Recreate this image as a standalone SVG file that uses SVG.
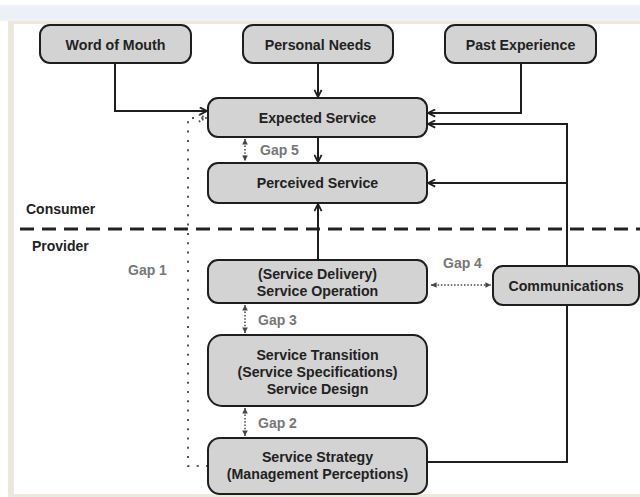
<svg xmlns="http://www.w3.org/2000/svg" width="640" height="497" viewBox="0 0 640 497">
<defs>
<style>
.node rect{fill:#d3d3d3;stroke:#1e1e1e;stroke-width:2}
.t{font-family:"Liberation Sans",Arial,sans-serif;font-weight:bold;font-size:14.2px;fill:#222;text-anchor:middle}
.lbl{font-family:"Liberation Sans",Arial,sans-serif;font-weight:bold;font-size:14px;fill:#222}
.gap{font-family:"Liberation Sans",Arial,sans-serif;font-size:14px;fill:#777;font-weight:bold}
.c{fill:none;stroke:#1e1e1e;stroke-width:2}
.d{fill:none;stroke:#555;stroke-width:2;stroke-dasharray:2 7.3}
.g{fill:none;stroke:#444;stroke-width:1.5;stroke-dasharray:1.5 1.8}
</style>
<marker id="ah" viewBox="0 0 10 10" refX="9" refY="5" markerWidth="9" markerHeight="9" markerUnits="userSpaceOnUse" orient="auto-start-reverse">
<path d="M1,1 L9,5 L1,9" fill="none" stroke="#1e1e1e" stroke-width="2"/>
</marker>
<marker id="ag" viewBox="0 0 10 10" refX="9" refY="5" markerWidth="7" markerHeight="7" markerUnits="userSpaceOnUse" orient="auto-start-reverse">
<path d="M1,1 L9,5 L1,9 Z" fill="#444"/>
</marker>
<marker id="ad" viewBox="0 0 10 10" refX="9" refY="5" markerWidth="9" markerHeight="9" markerUnits="userSpaceOnUse" orient="auto">
<path d="M1,1 L9,5 L1,9" fill="none" stroke="#555" stroke-width="2" stroke-dasharray="2 2"/>
</marker>
</defs>
<rect x="0" y="0" width="640" height="497" fill="#ffffff"/>
<rect x="0" y="5" width="640" height="16" fill="#edf1f7"/>
<rect x="8" y="21" width="632" height="476" fill="#ece8dc"/>
<rect x="14" y="24" width="626" height="470" fill="#ffffff"/>

<line x1="20" y1="229" x2="640" y2="229" stroke="#222" stroke-width="3" stroke-dasharray="14 8"/>
<text class="lbl" x="26" y="214">Consumer</text>
<text class="lbl" x="32" y="251">Provider</text>

<g id="connectors">
<path class="c" d="M115,63 V111 H207" marker-end="url(#ah)"/>
<path class="c" d="M318,63 V97" marker-end="url(#ah)"/>
<path class="c" d="M521,63 V113 H428" marker-end="url(#ah)"/>
<path class="c" d="M567,266 V124 H428" marker-end="url(#ah)"/>
<path class="c" d="M567,183 H428" marker-end="url(#ah)"/>
<path class="c" d="M567,305 V462 H427"/>
<path class="c" d="M318,137 V162" marker-end="url(#ah)"/>
<path class="c" d="M318,260 V204" marker-end="url(#ah)"/>
<path class="d" d="M208,466 H188 V118 H206" marker-end="url(#ad)"/>
<path class="g" d="M245,139 V161" marker-start="url(#ag)" marker-end="url(#ag)"/>
<path class="g" d="M245,305 V333" marker-start="url(#ag)" marker-end="url(#ag)"/>
<path class="g" d="M245,408 V436" marker-start="url(#ag)" marker-end="url(#ag)"/>
<path class="g" d="M431,285 H491" marker-start="url(#ag)" marker-end="url(#ag)"/>
</g>

<text class="gap" x="260" y="155">Gap 5</text>
<text class="gap" x="258" y="325">Gap 3</text>
<text class="gap" x="258" y="428">Gap 2</text>
<text class="gap" x="128" y="275">Gap 1</text>
<text class="gap" x="443" y="268">Gap 4</text>

<g id="word-of-mouth" class="node"><rect x="40" y="25" width="151" height="38" rx="10"/><text class="t" x="115.5" y="50">Word of Mouth</text></g>
<g id="personal-needs" class="node"><rect x="243" y="25" width="150" height="38" rx="10"/><text class="t" x="318" y="50">Personal Needs</text></g>
<g id="past-experience" class="node"><rect x="445" y="25" width="151" height="38" rx="10"/><text class="t" x="520.5" y="50">Past Experience</text></g>
<g id="expected-service" class="node"><rect x="208" y="98" width="219" height="39" rx="10"/><text class="t" x="317.5" y="123">Expected Service</text></g>
<g id="perceived-service" class="node"><rect x="208" y="163" width="219" height="40" rx="10"/><text class="t" x="317.5" y="188">Perceived Service</text></g>
<g id="service-operation" class="node"><rect x="208" y="260" width="219" height="43" rx="10"/><text class="t" x="317.5" y="279">(Service Delivery)</text><text class="t" x="317.5" y="296">Service Operation</text></g>
<g id="communications" class="node"><rect x="493" y="266" width="146" height="39" rx="10"/><text class="t" x="566" y="291">Communications</text></g>
<g id="service-transition" class="node"><rect x="208" y="335" width="219" height="71" rx="14"/><text class="t" x="317.5" y="360">Service Transition</text><text class="t" x="317.5" y="377">(Service Specifications)</text><text class="t" x="317.5" y="394">Service Design</text></g>
<g id="service-strategy" class="node"><rect x="208" y="438" width="219" height="56" rx="12"/><text class="t" x="317.5" y="462">Service Strategy</text><text class="t" x="317.5" y="479">(Management Perceptions)</text></g>
</svg>
